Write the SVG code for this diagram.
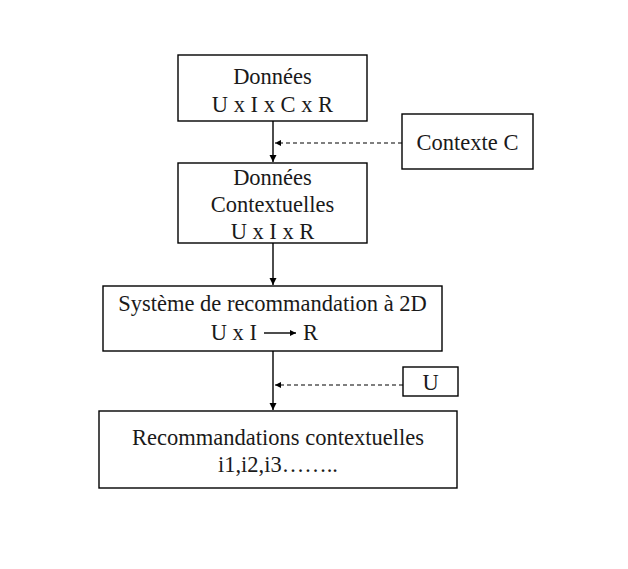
<svg xmlns="http://www.w3.org/2000/svg" width="628" height="569" viewBox="0 0 628 569">
<style>
.box{fill:#fff;stroke:#000;stroke-width:1.4}
text{font-family:"Liberation Serif","Times New Roman",serif;font-size:22.5px;fill:#1a1a1a;text-anchor:middle}
.ln{stroke:#000;stroke-width:1.4;fill:none}
.dash{stroke:#000;stroke-width:1.1;stroke-dasharray:4,3;fill:none}
</style>
<defs>
<marker id="ah" markerWidth="8" markerHeight="8" refX="7" refY="4" orient="auto" markerUnits="userSpaceOnUse">
<path d="M0,0.5 L7,4 L0,7.5 Z" fill="#000"/>
</marker>
<marker id="ahs" markerWidth="7" markerHeight="7" refX="6" refY="3.5" orient="auto" markerUnits="userSpaceOnUse">
<path d="M0,0.5 L6,3.5 L0,6.5 Z" fill="#000"/>
</marker>
</defs>
<rect width="628" height="569" fill="#fff"/>
<g id="connectors">
<line class="ln" x1="273" y1="121" x2="273" y2="162" marker-end="url(#ah)"/>
<line class="ln" x1="273" y1="243" x2="273" y2="285" marker-end="url(#ah)"/>
<line class="ln" x1="273" y1="351" x2="273" y2="410" marker-end="url(#ah)"/>
<line class="dash" x1="402" y1="143" x2="275" y2="143" marker-end="url(#ahs)"/>
<line class="dash" x1="403" y1="385" x2="275" y2="385" marker-end="url(#ahs)"/>
</g>
<g id="n1">
<rect class="box" x="178" y="55" width="189" height="66"/>
<text x="272.5" y="84">Données</text>
<text x="272.5" y="112">U x I x C x R</text>
</g>
<g id="n2">
<rect class="box" x="178" y="163" width="189" height="80"/>
<text x="272.5" y="185">Données</text>
<text x="272.5" y="212">Contextuelles</text>
<text x="272.5" y="239">U x I x R</text>
</g>
<g id="nc">
<rect class="box" x="402" y="114" width="131" height="55"/>
<text x="467.5" y="150">Contexte C</text>
</g>
<g id="n3">
<rect class="box" x="103" y="286" width="339" height="65"/>
<text x="272.5" y="311">Système de recommandation à 2D</text>
<text x="257" y="340" style="text-anchor:end">U x I</text>
<line class="ln" x1="264" y1="333" x2="296" y2="333" marker-end="url(#ahs)"/>
<text x="303" y="340" style="text-anchor:start">R</text>
</g>
<g id="nu">
<rect class="box" x="403" y="367" width="55" height="29"/>
<text x="430.5" y="390">U</text>
</g>
<g id="n4">
<rect class="box" x="99" y="411" width="358" height="77"/>
<text x="278" y="445">Recommandations contextuelles</text>
<text x="278" y="472">i1,i2,i3……..</text>
</g>
</svg>
